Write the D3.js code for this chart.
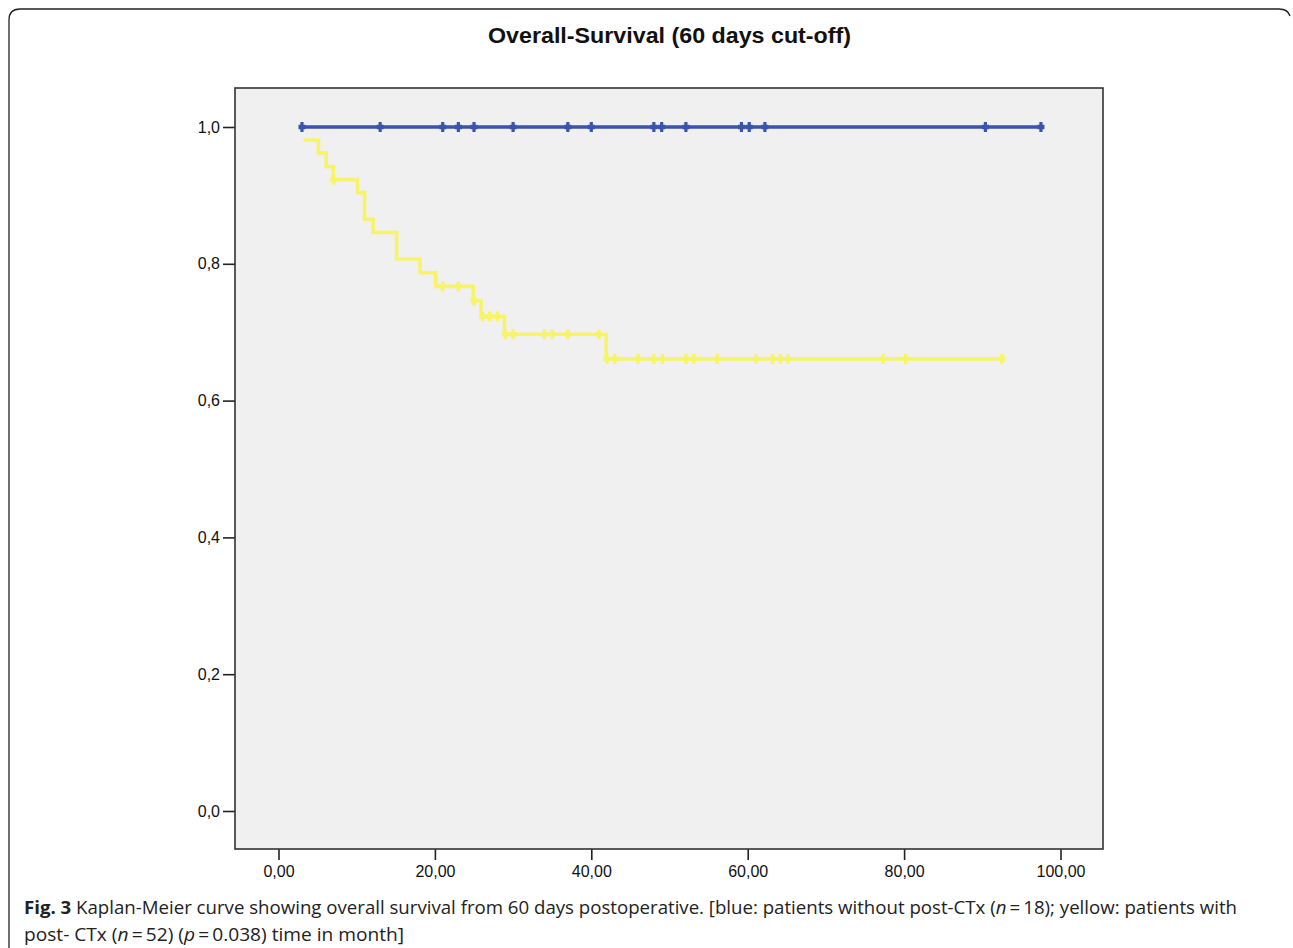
<!DOCTYPE html>
<html>
<head>
<meta charset="utf-8">
<script src="https://cdn.jsdelivr.net/npm/d3@7"></script>
<style>
  html, body { margin: 0; padding: 0; background: #fff; }
  svg { display: block; }
</style>
</head>
<body>
<svg id="chart" width="1293" height="948"></svg>
<script>
// ---- Data ----
const title = "Overall-Survival (60 days cut-off)";
const xTicks = [0, 20, 40, 60, 80, 100];
const yTicks = [0, 0.2, 0.4, 0.6, 0.8, 1.0];

// Blue: patients without post-CTx (no events, all censored)
const blueStart = 3.0;
const blueEnd = 97.5;
const blueLevel = 1.0;
const blueCensors = [3.0, 13.0, 21.0, 23.0, 25.0, 30.0, 37.0, 40.0, 48.0, 49.0, 52.1, 59.2, 60.2, 62.2, 90.4, 97.5];

// Yellow: patients with post-CTx — step times and survival after each step
const yellowStepTimes = [3.2, 5.1, 6.1, 7.0, 10.1, 11.0, 12.1, 15.1, 18.1, 20.1, 24.9, 25.9, 28.9, 41.9];
const yellowStepSurv  = [0.981, 0.962, 0.942, 0.923, 0.904, 0.865, 0.846, 0.807, 0.787, 0.767, 0.746, 0.723, 0.697, 0.661];
const yellowEnd = 92.5;
const yellowCensors = [7.05, 21.0, 23.0, 25.0, 26.1, 27.0, 28.0, 29.0, 30.0, 34.0, 35.0, 37.0, 41.0,
                       42.0, 43.0, 46.0, 48.0, 49.1, 52.1, 53.1, 56.1, 61.1, 63.2, 64.2, 65.2, 77.3, 80.2, 92.5];

const captionLine1 = [
  {t: "Fig. 3", w: "bold"},
  {t: " Kaplan-Meier curve showing overall survival from 60 days postoperative. [blue: patients without post-CTx ("},
  {t: "n", s: "italic"},
  {t: "\u2009=\u200918); yellow: patients with"}
];
const captionLine2 = [
  {t: "post- CTx ("},
  {t: "n", s: "italic"},
  {t: "\u2009=\u200952) ("},
  {t: "p", s: "italic"},
  {t: "\u2009=\u20090.038) time in month]"}
];

// ---- Layout ----
const svg = d3.select("#chart");
const frame = {left: 235, right: 1103, top: 88, bottom: 849};
const x = d3.scaleLinear().domain([0, 100]).range([278.5, 1060.5]);
const y = d3.scaleLinear().domain([0, 1]).range([811, 127]);

const blue = "#3a55a8";
const yellow = "#f7f46a";

// Outer figure border (rounded top corners, left side running down)
svg.append("path")
  .attr("d", "M9,948 L9,20 Q9,9 20,9 L1279,9 Q1288,9 1290,16")
  .attr("fill", "none").attr("stroke", "#222").attr("stroke-width", 1.3);

// Title
svg.append("text")
  .attr("x", 488).attr("y", 43)
  .attr("font-family", "Liberation Sans, Arial, sans-serif")
  .attr("font-weight", "bold").attr("font-size", 22)
  .attr("textLength", 363).attr("lengthAdjust", "spacingAndGlyphs")
  .attr("fill", "#111")
  .text(title);

// Plot background
svg.append("rect")
  .attr("x", frame.left).attr("y", frame.top)
  .attr("width", frame.right - frame.left).attr("height", frame.bottom - frame.top)
  .attr("fill", "#f0f0f0");

// Axes
const fmtY = d => d3.format(".1f")(d).replace(".", ",");
const fmtX = d => d3.format(".2f")(d).replace(".", ",");

const gy = svg.append("g")
  .attr("transform", `translate(${frame.left},0)`)
  .call(d3.axisLeft(y).tickValues(yTicks).tickSize(12).tickPadding(3).tickFormat(fmtY));
const gx = svg.append("g")
  .attr("transform", `translate(0,${frame.bottom})`)
  .call(d3.axisBottom(x).tickValues(xTicks).tickSize(11).tickPadding(6).tickFormat(fmtX));
[gx, gy].forEach(g => {
  g.select(".domain").remove();
  g.selectAll(".tick line").attr("stroke", "#222").attr("stroke-width", 1.6);
  g.selectAll(".tick text")
    .attr("font-family", "Liberation Sans, Arial, sans-serif")
    .attr("font-size", 16).attr("fill", "#111");
});

// Frame
svg.append("rect")
  .attr("x", frame.left).attr("y", frame.top)
  .attr("width", frame.right - frame.left).attr("height", frame.bottom - frame.top)
  .attr("fill", "none").attr("stroke", "#333").attr("stroke-width", 1.6);

// Blue line
const line = d3.line().x(d => x(d[0])).y(d => y(d[1]));
svg.append("path")
  .attr("d", line([[blueStart, blueLevel], [blueEnd, blueLevel]]))
  .attr("fill", "none").attr("stroke", blue).attr("stroke-width", 3.4);

// Yellow step curve
const yPts = yellowStepTimes.map((t, i) => [t, yellowStepSurv[i]]);
yPts.push([yellowEnd, yellowStepSurv[yellowStepSurv.length - 1]]);
const stepLine = d3.line().x(d => x(d[0])).y(d => y(d[1])).curve(d3.curveStepAfter);
svg.append("path")
  .attr("d", stepLine(yPts))
  .attr("fill", "none").attr("stroke", yellow).attr("stroke-width", 3.6);

// Survival at time t for yellow
function survAt(t) {
  let s = 1;
  for (let i = 0; i < yellowStepTimes.length; i++) if (t >= yellowStepTimes[i]) s = yellowStepSurv[i];
  return s;
}

function censorMarks(times, level, color) {
  const g = svg.append("g");
  times.forEach(t => {
    const cx = x(t), cy = y(level(t));
    g.append("line").attr("x1", cx).attr("x2", cx).attr("y1", cy - 5).attr("y2", cy + 5)
      .attr("stroke", color).attr("stroke-width", 3.2);
    g.append("line").attr("x1", cx - 3.5).attr("x2", cx + 3.5).attr("y1", cy).attr("y2", cy)
      .attr("stroke", color).attr("stroke-width", 4.5);
  });
}
censorMarks(blueCensors, () => blueLevel, blue);
censorMarks(yellowCensors, survAt, yellow);

// Caption
function caption(parts, yPos, len) {
  const t = svg.append("text")
    .attr("x", 24).attr("y", yPos)
    .attr("font-family", "Open Sans, sans-serif")
    .attr("font-size", 18.5).attr("fill", "#222")
    .attr("textLength", len).attr("lengthAdjust", "spacingAndGlyphs");
  parts.forEach(p => {
    t.append("tspan")
      .attr("font-weight", p.w || null)
      .attr("font-style", p.s || null)
      .text(p.t);
  });
}
caption(captionLine1, 914, 1213);
caption(captionLine2, 941, 380);
</script>
</body>
</html>
